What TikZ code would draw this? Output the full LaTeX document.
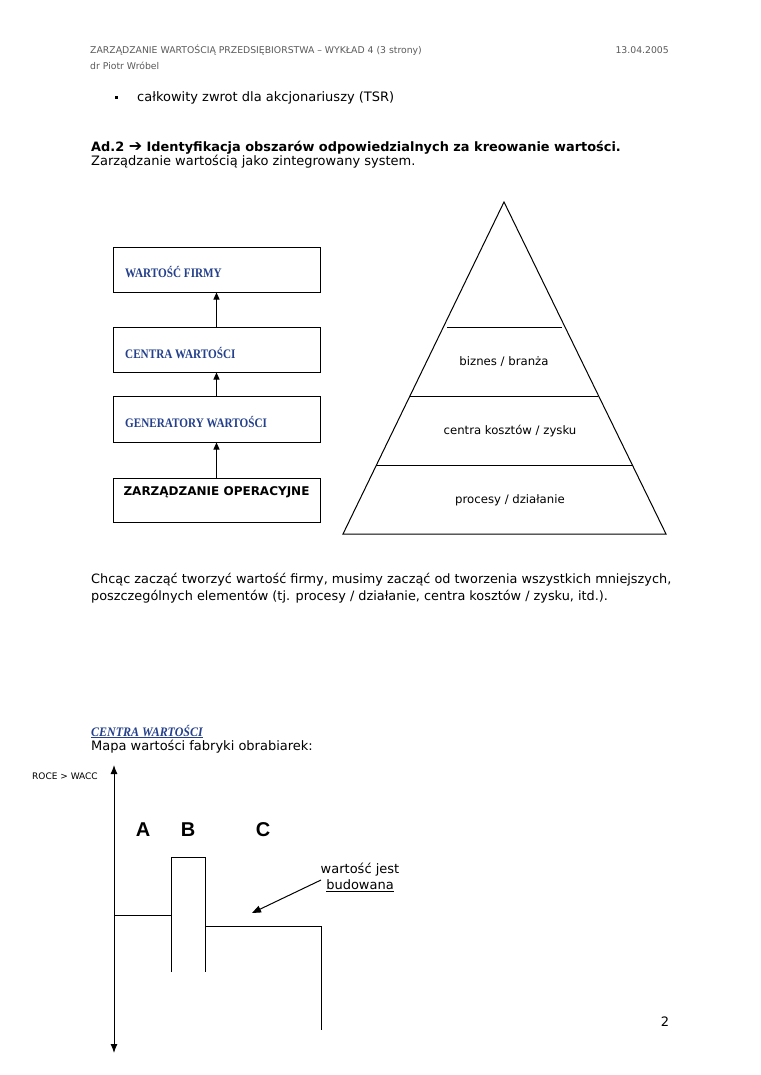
\documentclass[tikz,border=0pt]{standalone}
\usepackage{fontspec}
\setmainfont{DejaVu Sans}
\newfontfamily\serifb{Liberation Serif}[FakeStretch=0.86]
\newfontfamily\serifi{Liberation Serif}[FakeStretch=0.92]
\newfontfamily\arialf{Liberation Sans}
\usetikzlibrary{arrows.meta}
\definecolor{boxblue}{RGB}{36,64,140}
\definecolor{hdrgray}{RGB}{90,90,90}
\tikzset{
  txt/.style={inner sep=0pt, anchor=base west, font=\fontsize{13}{15}\selectfont},
  hdr/.style={inner sep=0pt, text=hdrgray, font=\fontsize{9.3}{11}\selectfont},
  vbox/.style={draw, line width=1pt, minimum width=207pt, inner sep=0pt},
  vlab/.style={inner sep=0pt, anchor=west, text=boxblue, font=\serifb\bfseries\fontsize{13}{15}\selectfont},
  uparrow/.style={line width=1pt, -{Triangle[length=7pt,width=6pt]}},
  pyr/.style={line width=1pt},
  plab/.style={inner sep=0pt, font=\fontsize{11.7}{13}\selectfont},
  letter/.style={inner sep=0pt, font=\arialf\bfseries\fontsize{20}{22}\selectfont},
}
\begin{document}
\begin{tikzpicture}[x=1pt,y=-1pt]
\useasboundingbox (0,0) rectangle (760,1075);
\fill[white] (0,0) rectangle (760,1075);

% header
\node[hdr, anchor=base west] (h1) at (90,54) {ZARZĄDZANIE WARTOŚCIĄ PRZEDSIĘBIORSTWA – WYKŁAD 4 (3 strony)};
\node[hdr, anchor=base east] (h2) at (669,54) {13.04.2005};
\node[hdr, anchor=base west] (h3) at (90,70) {dr Piotr Wróbel};

% bullet
\node[fill=black, minimum size=3pt, inner sep=0pt] (bul) at (116,98) {};
\node[txt] (t1) at (137,102) {całkowity zwrot dla akcjonariuszy (TSR)};

% heading
\node[txt, font=\bfseries\fontsize{12.9}{15}\selectfont] (t2) at (91,152) {Ad.2 {\fontsize{16}{16}\selectfont ➔} Identyfikacja obszarów odpowiedzialnych za kreowanie wartości.};
\node[txt] (t3) at (91,166) {Zarządzanie wartością jako zintegrowany system.};

% left boxes
\node[vbox, minimum height=45pt] (b1) at (216.5,269.5) {};
\node[vbox, minimum height=45pt] (b2) at (216.5,349.5) {};
\node[vbox, minimum height=46pt] (b3) at (216.5,419) {};
\node[vbox, minimum height=44pt] (b4) at (216.5,500) {};
\node[vlab] (l1) at (125,272) {WARTOŚĆ FIRMY};
\node[vlab] (l2) at (125,353) {CENTRA WARTOŚCI};
\node[vlab] (l3) at (125,422) {GENERATORY WARTOŚCI};
\node[inner sep=0pt, font=\bfseries\fontsize{12}{14}\selectfont] (l4) at (216.5,492) {ZARZĄDZANIE OPERACYJNE};
\draw[uparrow] (b4.north) -- (b3.south);
\draw[uparrow] (b3.north) -- (b2.south);
\draw[uparrow] (b2.north) -- (b1.south);

% pyramid
\coordinate (apex) at (504,202);
\coordinate (bl) at (343,534);
\coordinate (br) at (666,534);
\draw[pyr, line join=miter] (apex) -- (br) -- (bl) -- cycle;
\coordinate (p1l) at (447,327); \coordinate (p1r) at (562,327);
\coordinate (p2l) at (410,396); \coordinate (p2r) at (598,396);
\coordinate (p3l) at (376,465); \coordinate (p3r) at (632,465);
\draw[pyr] (p1l) -- (p1r);
\draw[pyr] (p2l) -- (p2r);
\draw[pyr] (p3l) -- (p3r);
\node[plab] (pl1) at (504,362) {biznes / branża};
\node[plab] (pl2) at (510,431) {centra kosztów / zysku};
\node[plab] (pl3) at (510,500) {procesy / działanie};

% paragraph
\node[txt, font=\fontsize{12.85}{15}\selectfont] (t4) at (91,583) {Chcąc zacząć tworzyć wartość firmy, musimy zacząć od tworzenia wszystkich mniejszych,};
\node[txt, font=\fontsize{12.85}{15}\selectfont] (t5) at (91,600) {poszczególnych elementów (tj. procesy / działanie, centra kosztów / zysku, itd.).};

% bottom section
\node[txt, text=boxblue, font=\serifi\bfseries\itshape\fontsize{13}{15}\selectfont] (t6) at (91,736) {\underline{CENTRA WARTOŚCI}};
\node[txt] (t7) at (91,750) {Mapa wartości fabryki obrabiarek:};
\node[inner sep=0pt, anchor=base west, font=\fontsize{9}{11}\selectfont] (roce) at (32,779) {ROCE > WACC};

\coordinate (axtop) at (114,765);
\coordinate (axbot) at (114,1053);
\draw[line width=1pt, {Latex[length=9pt,width=7pt]}-{Latex[length=9pt,width=7pt]}] (axtop) -- (axbot);

\node[letter] (la) at (143,830) {A};
\node[letter] (lb) at (188,830) {B};
\node[letter] (lc) at (263,830) {C};

\coordinate (a0) at (114,915);
\coordinate (a1) at (171,915);
\coordinate (bt0) at (171,857);
\coordinate (bt1) at (205,857);
\coordinate (bb0) at (171,972);
\coordinate (bb1) at (205,972);
\coordinate (c0) at (205,926);
\coordinate (c1) at (321,926);
\coordinate (c2) at (321,1030);
\draw[line width=1pt] (a0) -- (a1);
\draw[line width=1pt] (bb0) -- (bt0) -- (bt1) -- (bb1);
\draw[line width=1pt] (c0) -- (c1) -- (c2);

\node[inner sep=0pt, font=\fontsize{13}{15}\selectfont] (w1) at (360,870) {wartość jest};
\node[inner sep=0pt, font=\fontsize{13}{15}\selectfont] (w2) at (360,886) {\underline{budowana}};
\coordinate (arrs) at (321,880);
\coordinate (arre) at (252,913);
\draw[line width=1pt, -{Triangle[length=9pt,width=7pt]}] (arrs) -- (arre);

\node[inner sep=0pt, font=\fontsize{13}{15}\selectfont] (pg) at (665,1022) {2};
\end{tikzpicture}
\end{document}
